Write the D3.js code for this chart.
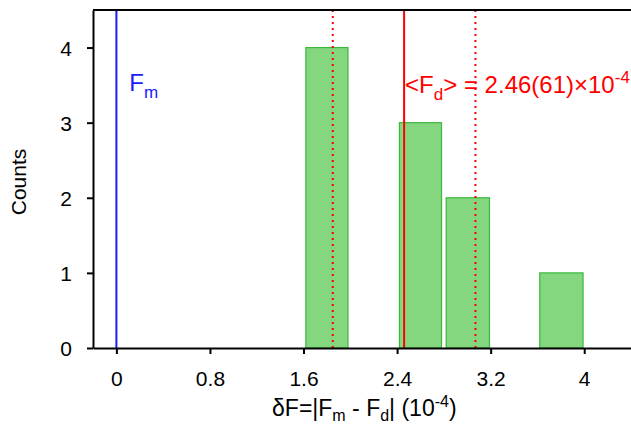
<!DOCTYPE html>
<html>
<head>
<meta charset="utf-8">
<script src="https://cdn.jsdelivr.net/npm/d3@7"></script>
<style>
  body { margin: 0; background: #fff; }
  text { font-family: "Liberation Sans", Arial, sans-serif; }
</style>
</head>
<body>
<div id="chart"></div>
<script>
// histogram bins (left edge, right edge, count), units of 1e-4
var binLeft = [1.62, 2.42, 2.82, 3.62];
var binRight = [1.98, 2.78, 3.19, 3.99];
var counts = [4, 3, 2, 1];
var xTicks = [0, 0.8, 1.6, 2.4, 3.2, 4];
var yTicks = [0, 1, 2, 3, 4];
var fmValue = 0;
var fdMean = 2.46;
var fdErr = 0.61;

var width = 631, height = 428;
var margin = {top: 10, right: 0, bottom: 80, left: 93};
var w = width - margin.left - margin.right;
var h = height - margin.top - margin.bottom;

var svg = d3.select('#chart').append('svg')
  .attr('width', width)
  .attr('height', height);
var g = svg.append('g')
  .attr('transform', 'translate(' + margin.left + ',' + margin.top + ')');

var x = d3.scaleLinear().domain([-0.2, 4.4]).range([0, w]);
var y = d3.scaleLinear().domain([0, 4.5]).range([h, 0]);

// bars
g.selectAll('rect.bar')
  .data(counts)
  .enter().append('rect')
  .attr('class', 'bar')
  .attr('x', function(d, i) { return x(binLeft[i]); })
  .attr('width', function(d, i) { return x(binRight[i]) - x(binLeft[i]); })
  .attr('y', function(d) { return y(d); })
  .attr('height', function(d) { return y(0) - y(d); })
  .attr('fill', '#84d67f')
  .attr('stroke', '#3cb83c')
  .attr('stroke-width', 1.2);

// F_m line
g.append('line')
  .attr('x1', x(fmValue)).attr('x2', x(fmValue))
  .attr('y1', 0).attr('y2', h)
  .attr('stroke', '#1a1aff').attr('stroke-width', 2);

// mean and error lines
g.append('line')
  .attr('x1', x(fdMean)).attr('x2', x(fdMean))
  .attr('y1', 0).attr('y2', h)
  .attr('stroke', '#ff0000').attr('stroke-width', 2);
[fdMean - fdErr, fdMean + fdErr].forEach(function(v) {
  g.append('line')
    .attr('x1', x(v)).attr('x2', x(v))
    .attr('y1', 0).attr('y2', h)
    .attr('stroke', '#ff0000').attr('stroke-width', 2)
    .attr('stroke-dasharray', '2,4');
});

// axes
var xAxis = g.append('g')
  .attr('transform', 'translate(0,' + h + ')')
  .call(d3.axisBottom(x).tickValues(xTicks).tickSize(6).tickSizeOuter(0).tickPadding(17)
    .tickFormat(function(d) { return String(d); }));
var yAxis = g.append('g')
  .call(d3.axisLeft(y).tickValues(yTicks).tickSize(6).tickSizeOuter(0).tickPadding(15)
    .tickFormat(function(d) { return String(d); }));
[xAxis, yAxis].forEach(function(a) {
  a.select('.domain').attr('stroke', '#000').attr('stroke-width', 2);
  a.selectAll('.tick line').attr('stroke', '#000').attr('stroke-width', 2);
  a.selectAll('.tick text').attr('font-size', 21).attr('fill', '#000')
    .style('font-family', '"Liberation Sans", Arial, sans-serif');
});
yAxis.selectAll('.tick text').attr('dy', '0.36em');

// top border
g.append('line')
  .attr('x1', 0).attr('x2', w)
  .attr('y1', 0).attr('y2', 0)
  .attr('stroke', '#000').attr('stroke-width', 2);

// labels
var fm = g.append('text')
  .attr('x', x(0.11)).attr('y', y(3.42))
  .attr('font-size', 24).attr('fill', '#1a1aff');
fm.append('tspan').text('F');
fm.append('tspan').attr('font-size', 17).attr('dy', 7).text('m');

var fd = g.append('text')
  .attr('x', x(fdMean) + 1).attr('y', y(3.4))
  .attr('font-size', 24).attr('fill', '#ff0000');
fd.append('tspan').text('<F');
fd.append('tspan').attr('font-size', 17).attr('dy', 7).text('d');
fd.append('tspan').attr('dy', -7).text('> = 2.46(61)\u00d710');
fd.append('tspan').attr('font-size', 17).attr('dy', -10).text('-4');

svg.append('text')
  .attr('transform', 'translate(26,' + (margin.top + h / 2 + 3) + ') rotate(-90)')
  .attr('text-anchor', 'middle')
  .attr('font-size', 21)
  .text('Counts');

var xl = svg.append('text')
  .attr('x', margin.left + x(2.12)).attr('y', 416)
  .attr('text-anchor', 'middle')
  .attr('font-size', 23);
xl.append('tspan').text('\u03b4F=|F');
xl.append('tspan').attr('font-size', 16).attr('dy', 5).text('m');
xl.append('tspan').attr('dy', -5).text(' - F');
xl.append('tspan').attr('font-size', 16).attr('dy', 5).text('d');
xl.append('tspan').attr('dy', -5).text('| (10');
xl.append('tspan').attr('font-size', 16).attr('dy', -9).text('-4');
xl.append('tspan').attr('dy', 9).text(')');
</script>
</body>
</html>
